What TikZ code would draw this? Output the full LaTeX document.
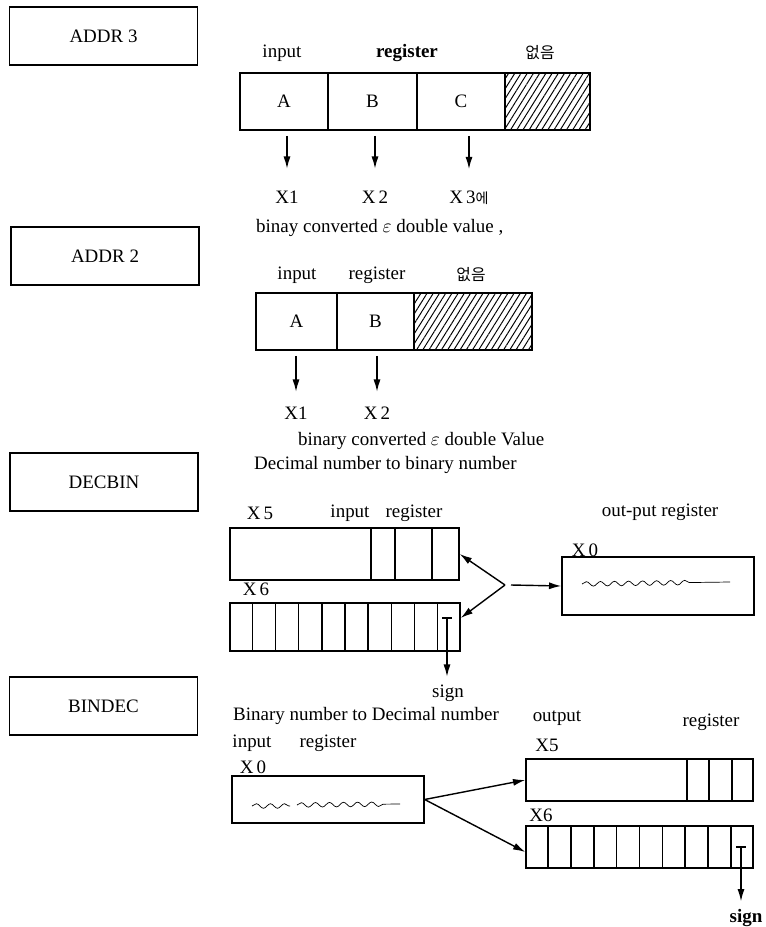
\documentclass[tikz,border=0pt]{standalone}
\usepackage{fontspec}
\setmainfont{Liberation Serif}
\newfontfamily\kofont{Noto Sans CJK KR}
\usetikzlibrary{calc,arrows.meta,patterns.meta,decorations.pathmorphing}

\tikzset{
  namebox/.style={draw, thick, minimum width=3.76cm, minimum height=1.16cm},
  cell/.style={draw, thick, minimum height=1.14cm, inner sep=0pt},
  regbox/.style={draw, thick, inner sep=0pt},
  unused/.style={pattern={Lines[angle=58,distance=3pt,line width=0.55pt]}},
  arr/.style={thick, -{Latex[length=7pt,width=4pt]}},
  wavy/.style={decorate, decoration={snake, amplitude=1.3pt, segment length=8pt}},
}

\begin{document}
\begin{tikzpicture}[x=0.02cm, y=-0.02cm, font=\fontsize{10.8}{13}\selectfont]

    % Page frame
    \useasboundingbox (0,0) rectangle (765,927);

    % Routine names on the left
    \node[namebox] (nAddr3)  at (103.5,36)  {ADDR 3};
    \node[namebox] (nAddr2)  at (105,256)   {ADDR 2};
    \node[namebox] (nDecbin) at (104,482)   {DECBIN};
    \node[namebox] (nBindec) at (103.5,706) {BINDEC};

    % --- ADDR 3 ---
    \node (a3in)  at (282,53) {input};
    \node (a3reg) at (407,53) {\bfseries register};
    \node (a3no)  at (540,53) {\kofont\small 없음};

    \node[cell, minimum width=1.76cm] (a3A) at (284,101.5) {A};
    \node[cell, minimum width=1.78cm] (a3B) at (372.5,101.5) {B};
    \node[cell, minimum width=1.76cm] (a3C) at (461,101.5) {C};
    \node[cell, unused, minimum width=1.70cm] (a3D) at (547.5,101.5) {};

    \node (a3x1) at (287,197) {X1};
    \node (a3x2) at (375,197) {X\,2};
    \node (a3x3) at (469,198) {X\,3{\kofont\footnotesize 에}};

    \draw[arr, shorten <=3pt, shorten >=9pt] (a3x1.north |- a3A.south) -- (a3x1.north);
    \draw[arr, shorten <=3pt, shorten >=9pt] (a3x2.north |- a3B.south) -- (a3x2.north);
    \draw[arr, shorten <=3pt, shorten >=9pt] (a3x3.north |- a3C.south) -- (a3x3.north);

    \node[anchor=west] (a3txt) at (250,228) {binay converted $\varepsilon$ double value ,};

    % --- ADDR 2 ---
    \node (a2in)  at (297,275) {input};
    \node (a2reg) at (377,275) {register};
    \node (a2no)  at (471,275) {\kofont\small 없음};

    \node[cell, minimum width=1.62cm] (a2A) at (296.5,321.5) {A};
    \node[cell, minimum width=1.54cm] (a2B) at (375.5,321.5) {B};
    \node[cell, unused, minimum width=2.36cm] (a2C) at (473,321.5) {};

    \node (a2x1) at (296,413) {X1};
    \node (a2x2) at (377,413) {X\,2};

    \draw[arr, shorten <=3pt, shorten >=5pt] (a2x1.north |- a2A.south) -- (a2x1.north);
    \draw[arr, shorten <=3pt, shorten >=5pt] (a2x2.north |- a2B.south) -- (a2x2.north);

    \node[anchor=west] (a2txt) at (292,441) {binary converted $\varepsilon$ double Value};

    % --- DECBIN ---
    \node[anchor=west] (dtitle) at (248,465) {Decimal number to binary number};
    \node (dx5)  at (260,513) {X\,5};
    \node (din)  at (350,513) {input};
    \node (dreg) at (414,513) {register};
    \node (dx6)  at (256,589) {X\,6};

    \node[regbox, minimum width=4.58cm, minimum height=1.04cm] (d5) at (344.5,554) {};
    \foreach \d in {371,395,432}
        \draw[thick] (\d,0 |- d5.north) -- (\d,0 |- d5.south);

    \node[regbox, minimum width=4.6cm, minimum height=0.96cm] (d6) at (345,627) {};
    \foreach \i in {1,...,9}
        \draw[thick] ($(d6.north west)!\i/10!(d6.north east)$) -- ($(d6.south west)!\i/10!(d6.south east)$);

    % sign bit of X6
    \coordinate (dT) at (447,618);
    \draw[thick] ($(dT)+(-5,0)$) -- ($(dT)+(5,0)$);
    \node (dsign) at (448,693) {sign};
    \draw[arr, shorten >=1pt] (dT) -- (dT |- dsign.north);

    % output register
    \node (dout) at (660,512) {out-put register};
    \node (dx0)  at (585,550) {X\,0};
    \node[regbox, minimum width=3.84cm, minimum height=1.16cm] (d0) at (658,586) {};
    \draw[wavy, decoration={post length=0.76cm}] (582,584) -- (730,582);

    \coordinate (dApex) at (505,585);
    \draw[arr] (dApex) -- (d5.east);
    \draw[arr] (dApex) -- ($(d6.east)+(0,-9)$);
    \draw[arr] ($(dApex)+(6,0)$) -- (d0.west);

    % --- BINDEC ---
    \node[anchor=west] (btitle) at (227,716) {Binary number to Decimal number};
    \node (bout)  at (557,718) {output};
    \node (breg2) at (711,722) {register};
    \node (bin)   at (252,743) {input};
    \node (breg)  at (328,743) {register};
    \node (bx0)   at (253,767) {X\,0};

    \node[regbox, minimum width=3.84cm, minimum height=0.94cm] (b0) at (328,799.5) {};
    \draw[wavy] (252,806) -- (290,806);
    \draw[wavy, decoration={post length=0.32cm}] (297,805) -- (400,804);

    \node (bx5) at (547,745) {X5};
    \node[regbox, minimum width=4.54cm, minimum height=0.84cm] (b5) at (639.5,780) {};
    \foreach \d in {687,709,732}
        \draw[thick] (\d,0 |- b5.north) -- (\d,0 |- b5.south);

    \node (bx6) at (541,815) {X6};
    \node[regbox, minimum width=4.54cm, minimum height=0.84cm] (b6) at (639.5,847) {};
    \foreach \i in {1,...,9}
        \draw[thick] ($(b6.north west)!\i/10!(b6.north east)$) -- ($(b6.south west)!\i/10!(b6.south east)$);

    \draw[arr] (b0.east) -- (b5.west);
    \draw[arr] (b0.east) -- ($(b6.west)+(0,5)$);

    % sign bit of X6
    \coordinate (bT) at (741,847);
    \draw[thick] ($(bT)+(-5,0)$) -- ($(bT)+(5,0)$);
    \node (bsign) at (746,918) {\bfseries sign};
    \draw[arr, shorten >=1pt] (bT) -- (bT |- bsign.north);

\end{tikzpicture}
\end{document}
